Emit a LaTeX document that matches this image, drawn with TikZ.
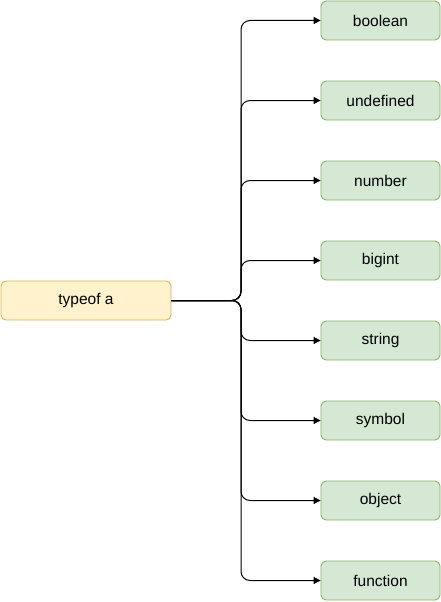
\documentclass[tikz,border=0pt]{standalone}
\usepackage{fontspec}
\setmainfont{Liberation Sans}
\usetikzlibrary{arrows.meta}
\definecolor{yfill}{HTML}{FFF2CC}
\definecolor{ydraw}{HTML}{D6B656}
\definecolor{gfill}{HTML}{D5E8D4}
\definecolor{gdraw}{HTML}{82B366}
\tikzset{
  srcbox/.style={draw=ydraw, fill=yfill, rounded corners=5pt, minimum width=170pt, minimum height=39pt, inner sep=0pt, line width=0.9pt, font=\fontsize{15.5}{18}\selectfont},
  typebox/.style={draw=gdraw, fill=gfill, rounded corners=5pt, minimum width=119pt, minimum height=39pt, inner sep=0pt, line width=0.9pt, font=\fontsize{15.5}{18}\selectfont},
  conn/.style={line width=1pt, rounded corners=9pt, -{Triangle[length=7pt,width=7pt]}}
}
\begin{document}
\begin{tikzpicture}[x=1pt,y=-1pt]
\useasboundingbox (0,0) rectangle (441,602);
\node[srcbox] (src) at (86,300.5) {typeof a};
\coordinate (bus) at (241,300.5);
\node[typebox] (t1) at (380.5,20.5) {boolean};
\node[typebox] (t2) at (380.5,100.5) {undefined};
\node[typebox] (t3) at (380.5,180.5) {number};
\node[typebox] (t4) at (380.5,260.5) {bigint};
\node[typebox] (t5) at (380.5,340.5) {string};
\node[typebox] (t6) at (380.5,420.5) {symbol};
\node[typebox] (t7) at (380.5,500.5) {object};
\node[typebox] (t8) at (380.5,580.5) {function};
\foreach \t in {t1,t2,t3,t4,t5,t6,t7,t8}
  \draw[conn] (src.east) -- (bus) |- (\t.west);
\end{tikzpicture}
\end{document}
